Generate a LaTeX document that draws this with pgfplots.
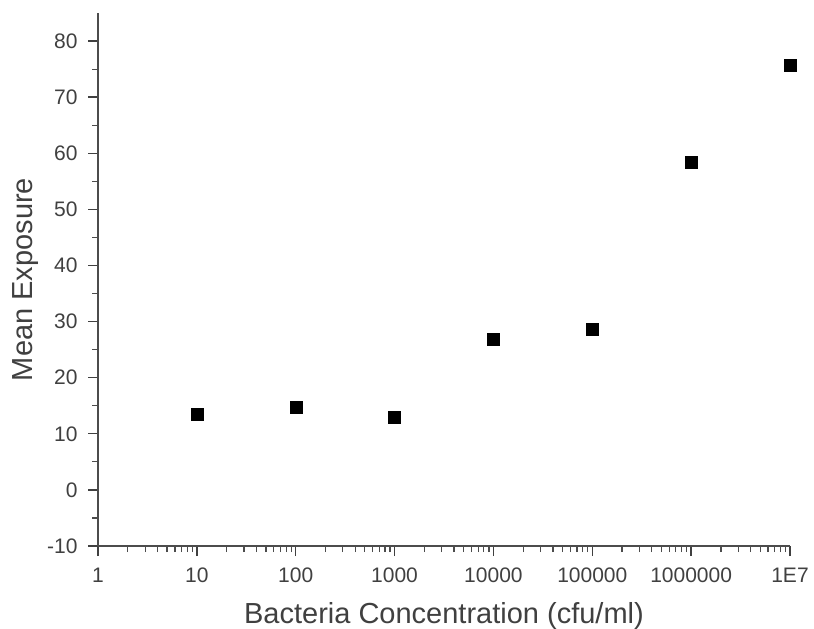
\documentclass[border=0pt]{standalone}
\usepackage{pgfplots}
\pgfplotsset{compat=1.18}
\usepackage{fontspec}
\setmainfont{Liberation Sans}
\begin{document}
\begin{tikzpicture}
\begin{axis}[
  scale only axis,
  width=692pt, height=533pt,
  xmode=log,
  xmin=1, xmax=1e7,
  ymin=-10, ymax=85,
  axis x line*=bottom, axis y line*=left,
  axis line style={black!70, line width=1.6pt},
  xtick={1,10,100,1000,10000,100000,1000000,10000000},
  xticklabels={1,10,100,1000,10000,100000,1000000,1E7},
  ytick={-10,0,...,80},
  minor y tick num=1,
  tick align=outside,
  major tick length=10pt, minor tick length=6pt,
  tick style={black!75, line width=1.4pt},
  minor tick style={black!70, line width=1.2pt},
  every tick label/.append style={font=\fontsize{21}{23}\selectfont, text=black!75},
  yticklabel style={xshift=-7pt},
  xticklabel style={yshift=-8.5pt},
  /pgf/number format/assume math mode=true,
  xlabel={Bacteria Concentration (cfu/ml)},
  ylabel={Mean Exposure},
  label style={font=\fontsize{29}{31}\selectfont, text=black!75},
  xlabel style={at={(axis description cs:0.5,0)}, anchor=center, yshift=-70pt},
  ylabel style={at={(axis description cs:0,0.5)}, anchor=center, yshift=72pt},
  clip=false,
]
\addplot[only marks, mark=square*, mark size=6pt, black] coordinates {
  (10,13.5) (100,14.65) (1000,12.9) (10000,26.9) (100000,28.6) (1000000,58.4) (10000000,75.7)
};
\coordinate (sw) at (rel axis cs:0,0);
\coordinate (ne) at (rel axis cs:1,1);
\end{axis}
\pgfresetboundingbox
\path ([shift={(-98pt,-83pt)}]sw) rectangle ([shift={(24pt,13pt)}]ne);
\end{tikzpicture}
\end{document}
